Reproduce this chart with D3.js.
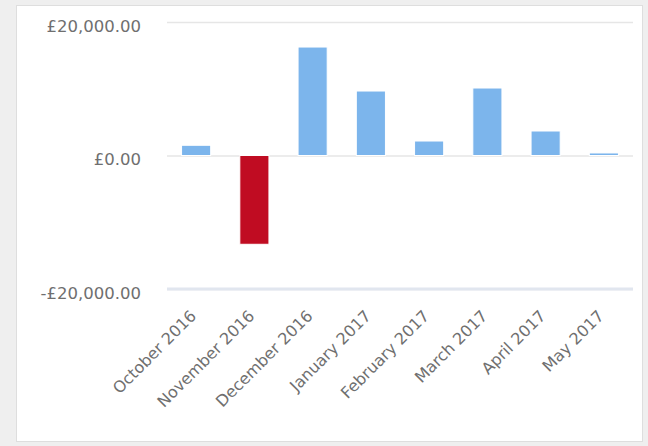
<!DOCTYPE html>
<html>
<head>
<meta charset="utf-8">
<script src="https://cdn.jsdelivr.net/npm/d3@7"></script>
<style>
  html, body { margin: 0; padding: 0; background: #efefef; }
  svg { display: block; }
  .tick text { font-family: "DejaVu Sans", sans-serif; fill: #6f6f6f; }
</style>
</head>
<body>
<div id="chart"></div>
<script>
// monthly totals
const months = ['October 2016', 'November 2016', 'December 2016', 'January 2017',
                'February 2017', 'March 2017', 'April 2017', 'May 2017'];
const totals = [1530, -13300, 16250, 9660, 2170, 10110, 3670, 380];
const yTicks = [-20000, 0, 20000];

const width = 648, height = 446;
const margin = { top: 22, right: 15, bottom: 157, left: 167 };

const svg = d3.select('#chart').append('svg')
    .attr('width', width)
    .attr('height', height);

// white card
svg.append('rect')
    .attr('x', 16.5).attr('y', 5.5)
    .attr('width', 626).attr('height', 436)
    .attr('fill', '#fff')
    .attr('stroke', '#dedede');

const x = d3.scaleBand()
    .domain(months)
    .range([margin.left, width - margin.right])
    .paddingInner(0.5)
    .paddingOuter(0.25);

const y = d3.scaleLinear()
    .domain([-20000, 20000])
    .range([height - margin.bottom, margin.top]);

const fmt = v => (v < 0 ? '-' : '') + '£' + d3.format(',.2f')(Math.abs(v));

// y axis: gridlines + labels
const yAxis = svg.append('g')
    .attr('transform', `translate(${margin.left}, 0)`)
    .call(d3.axisLeft(y).tickValues(yTicks).tickFormat(fmt)
        .tickSize(-(width - margin.right - margin.left)).tickPadding(26));
yAxis.select('.domain').remove();
yAxis.selectAll('.tick line').attr('stroke', '#e6e6e6').attr('stroke-width', 1.5);
yAxis.selectAll('.tick text')
    .style('font-size', '16.5px')
    .attr('dy', '0.55em');

// bars
svg.append('g').selectAll('rect')
    .data(totals)
    .join('rect')
    .attr('x', (d, i) => x(months[i]))
    .attr('width', x.bandwidth())
    .attr('y', d => y(Math.max(0, d)))
    .attr('height', d => Math.abs(y(d) - y(0)))
    .attr('fill', d => d < 0 ? '#c00c22' : '#7cb5ec')
    .attr('stroke', '#fff')
    .attr('stroke-width', 1);

// category axis line at the bottom
svg.append('line')
    .attr('x1', margin.left).attr('x2', width - margin.right)
    .attr('y1', y(-20000)).attr('y2', y(-20000))
    .attr('stroke', '#e1e6ef')
    .attr('stroke-width', 3);

// x axis labels
const xAxis = svg.append('g')
    .attr('transform', `translate(0, ${y(-20000)})`)
    .call(d3.axisBottom(x).tickSize(0));
xAxis.select('.domain').remove();
xAxis.selectAll('.tick text')
    .style('font-size', '16px')
    .attr('text-anchor', 'end')
    .attr('dy', '0.35em')
    .attr('y', 0)
    .attr('transform', 'translate(-3, 24) rotate(-45)');
</script>
</body>
</html>
